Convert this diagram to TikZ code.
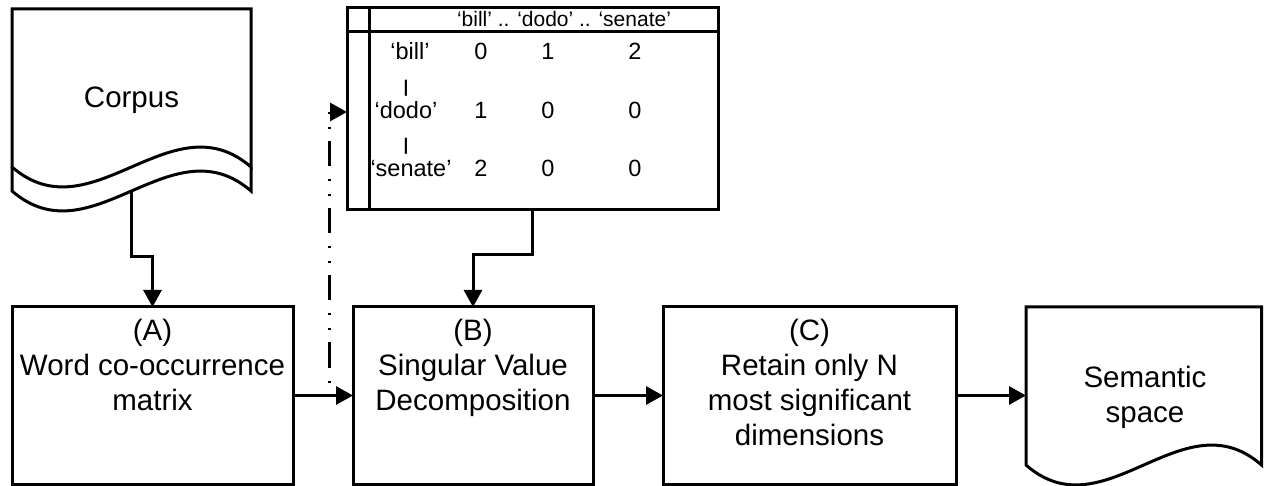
\documentclass[tikz,border=0pt]{standalone}
\usepackage{fontspec}
\setmainfont{Liberation Sans}
\usetikzlibrary{arrows.meta,calc}
\begin{document}
\begin{tikzpicture}[x=1pt,y=-1pt,
  every node/.style={inner sep=0pt,outer sep=0pt},
  heavy/.style={line width=3pt},
  procbox/.style={heavy,draw,minimum height=177pt},
  bigtext/.style={font=\fontsize{29.5}{35}\selectfont,align=center},
  celltext/.style={font=\fontsize{23.5}{26}\selectfont,anchor=base},
  headtext/.style={font=\fontsize{21}{24}\selectfont,anchor=base},
  bartext/.style={font=\bfseries\fontsize{17}{19}\selectfont},
  flow/.style={heavy,-{Triangle[length=17pt,width=18pt]}},
  feedback/.style={line width=3pt,
    dash pattern=on 25pt off 12pt on 2pt off 13pt on 2pt off 13pt,
    dash phase=39pt,-{Triangle[length=17pt,width=18pt]}}
]
\useasboundingbox (0,0) rectangle (1264,486);

% processing steps
\node[procbox,minimum width=281pt] (A) at (152.5,395.5) {};
\node[procbox,minimum width=240pt] (B) at (473,395.5) {};
\node[procbox,minimum width=293pt] (C) at (809.5,395.5) {};
\node[bigtext,anchor=north] (Atext) at (152.5,319.5) {(A)\\Word co-occurrence\\matrix};
\node[bigtext,anchor=north] (Btext) at (473,319.5) {(B)\\Singular Value\\Decomposition};
\node[bigtext,anchor=north] (Ctext) at (809.5,319.5) {(C)\\Retain only N\\most significant\\dimensions};

% corpus document
\node[minimum width=239pt,minimum height=183pt,font=\fontsize{29.5}{35}\selectfont] (corpus) at (131.5,100.5) {Corpus};
\draw[heavy] (12,167) -- (12,9) -- (251,9) -- (251,167)
  .. controls (171.3,98) and (91.7,236) .. (12,167) -- cycle;
\draw[heavy] (12,167) -- (12,191)
  .. controls (91.7,260) and (171.3,122) .. (251,191) -- (251,167);

% semantic space document
\node[minimum width=236pt,minimum height=158pt] (space) at (1144,386) {};
\draw[heavy] (1026,465) -- (1026,307) -- (1261.5,307) -- (1261.5,465)
  .. controls (1183,396) and (1104.5,534) .. (1026,465) -- cycle;
\node[bigtext,anchor=north] (spacetext) at (1145,366) {Semantic\\space};

% co-occurrence table
\node[heavy,draw,minimum width=371pt,minimum height=202pt] (table) at (532.5,109) {};
\draw[heavy] (table.north west) ++(22,0) -- ++(0,202);
\draw[heavy] (table.north west) ++(0,24) -- ++(371,0);
\node[headtext] (head) at (564,27) {‘bill’ .. ‘dodo’ .. ‘senate’};
\node[celltext] (rbill) at (410,59.5) {‘bill’};
\node[bartext] (bar1) at (406,88) {|};
\node[celltext] (rdodo) at (406,119) {‘dodo’};
\node[bartext] (bar2) at (406,146) {|};
\node[celltext] (rsenate) at (411,177) {‘senate’};
\node[celltext] (c11) at (481,59.5) {0};
\node[celltext] (c12) at (548,59.5) {1};
\node[celltext] (c13) at (635,59.5) {2};
\node[celltext] (c21) at (481,119) {1};
\node[celltext] (c22) at (548,119) {0};
\node[celltext] (c23) at (635,119) {0};
\node[celltext] (c31) at (481,177) {2};
\node[celltext] (c32) at (548,177) {0};
\node[celltext] (c33) at (635,177) {0};

% connectors
\draw[flow] (corpus.south) -- ++(0,65) -| (A.north);
\draw[flow] (table.south) -- ++(0,45) -| (B.north);
\draw[flow] (A.east) -- (B.west);
\draw[flow] (B.east) -- (C.west);
\draw[flow] (C.east) -- (C.east -| space.west);
\coordinate (split) at ($(A.east)!0.6!(B.west)$);
\draw[feedback] (split) |- ($(table.west)+(0,3)$);
\end{tikzpicture}
\end{document}
